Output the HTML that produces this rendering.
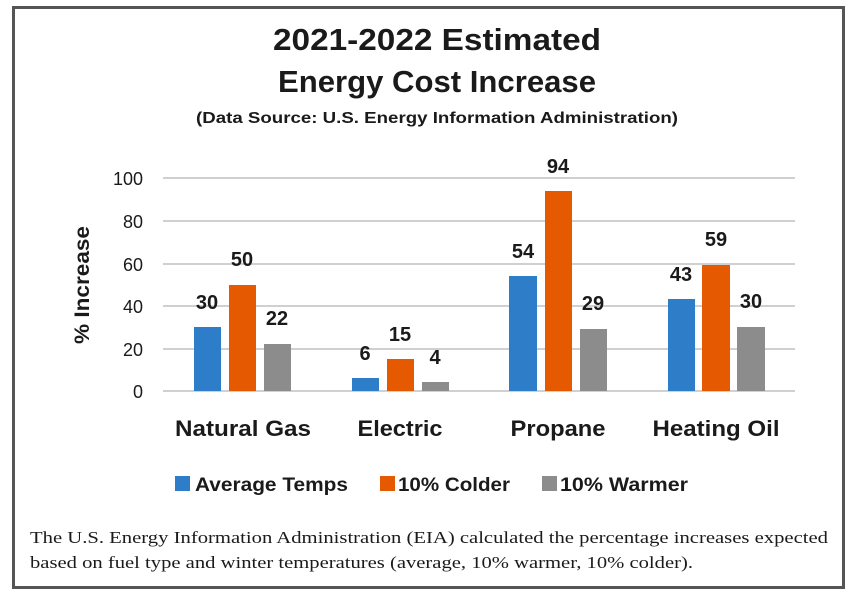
<!DOCTYPE html>
<html><head><meta charset="utf-8"><style>
html,body{margin:0;padding:0;background:#fff;}
svg{display:block;}
text{font-family:"Liberation Sans",sans-serif;fill:#1a1a1a;}
.b{font-weight:bold;}
.s{font-family:"Liberation Serif",serif;}
</style></head><body>
<svg width="854" height="596" viewBox="0 0 854 596">
<rect x="13.5" y="7.5" width="830" height="580" fill="#fff" stroke="#555" stroke-width="3"/>
<text class="b" x="437" y="50" font-size="31" text-anchor="middle" textLength="328" lengthAdjust="spacingAndGlyphs">2021-2022 Estimated</text>
<text class="b" x="437" y="92" font-size="31" text-anchor="middle" textLength="318" lengthAdjust="spacingAndGlyphs">Energy Cost Increase</text>
<text class="b" x="437" y="123" font-size="16" text-anchor="middle" textLength="482" lengthAdjust="spacingAndGlyphs">(Data Source: U.S. Energy Information Administration)</text>
<g stroke="#d0d0d0" stroke-width="2">
<line x1="163" x2="795" y1="178" y2="178"/><line x1="163" x2="795" y1="221" y2="221"/>
<line x1="163" x2="795" y1="264" y2="264"/><line x1="163" x2="795" y1="306" y2="306"/>
<line x1="163" x2="795" y1="349" y2="349"/><line x1="163" x2="795" y1="391" y2="391"/>
</g>
<g font-size="18" text-anchor="end">
<text x="143" y="185">100</text><text x="143" y="228">80</text><text x="143" y="271">60</text>
<text x="143" y="313">40</text><text x="143" y="356">20</text><text x="143" y="398">0</text>
</g>
<text class="b" font-size="21" transform="translate(89,285) rotate(-90)" text-anchor="middle" textLength="118" lengthAdjust="spacingAndGlyphs">% Increase</text>
<g>
<rect x="194" y="327" width="27" height="64" fill="#2e7dc9"/>
<rect x="229" y="285" width="27" height="106" fill="#e55a00"/>
<rect x="264" y="344" width="27" height="47" fill="#8c8c8c"/>
<rect x="352" y="378" width="27" height="13" fill="#2e7dc9"/>
<rect x="387" y="359" width="27" height="32" fill="#e55a00"/>
<rect x="422" y="382" width="27" height="9" fill="#8c8c8c"/>
<rect x="509" y="276" width="28" height="115" fill="#2e7dc9"/>
<rect x="545" y="191" width="27" height="200" fill="#e55a00"/>
<rect x="580" y="329" width="27" height="62" fill="#8c8c8c"/>
<rect x="668" y="299" width="27" height="92" fill="#2e7dc9"/>
<rect x="702" y="265" width="28" height="126" fill="#e55a00"/>
<rect x="737" y="327" width="28" height="64" fill="#8c8c8c"/>
</g>
<g class="b" font-size="20" text-anchor="middle">
<text x="207" y="309">30</text><text x="242" y="266">50</text><text x="277" y="325">22</text>
<text x="365" y="360">6</text><text x="400" y="341">15</text><text x="435" y="364">4</text>
<text x="523" y="258">54</text><text x="558" y="173">94</text><text x="593" y="310">29</text>
<text x="681" y="281">43</text><text x="716" y="246">59</text><text x="751" y="308">30</text>
</g>
<g class="b" font-size="22" text-anchor="middle">
<text x="243" y="436" textLength="136" lengthAdjust="spacingAndGlyphs">Natural Gas</text>
<text x="400" y="436" textLength="85" lengthAdjust="spacingAndGlyphs">Electric</text>
<text x="558" y="436" textLength="95" lengthAdjust="spacingAndGlyphs">Propane</text>
<text x="716" y="436" textLength="127" lengthAdjust="spacingAndGlyphs">Heating Oil</text>
</g>
<rect x="175" y="476" width="15" height="15" fill="#2e7dc9"/>
<rect x="380" y="476" width="15" height="15" fill="#e55a00"/>
<rect x="542" y="476" width="15" height="15" fill="#8c8c8c"/>
<g class="b" font-size="19">
<text x="195" y="491" textLength="153" lengthAdjust="spacingAndGlyphs">Average Temps</text>
<text x="398" y="491" textLength="112" lengthAdjust="spacingAndGlyphs">10% Colder</text>
<text x="560" y="491" textLength="128" lengthAdjust="spacingAndGlyphs">10% Warmer</text>
</g>
<text class="s" x="30" y="543" font-size="17" textLength="798" lengthAdjust="spacingAndGlyphs">The U.S. Energy Information Administration (EIA) calculated the percentage increases expected</text>
<text class="s" x="30" y="568" font-size="17" textLength="663" lengthAdjust="spacingAndGlyphs">based on fuel type and winter temperatures (average, 10% warmer, 10% colder).</text>
</svg>
</body></html>
